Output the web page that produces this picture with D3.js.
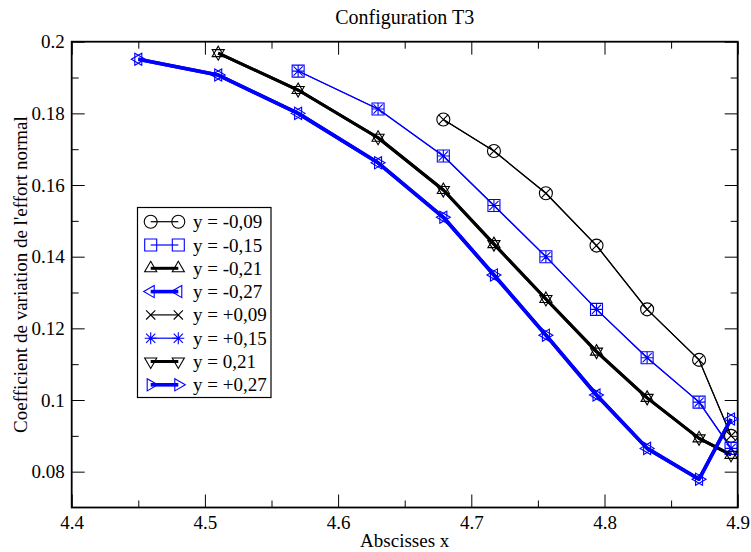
<!DOCTYPE html>
<html>
<head>
<meta charset="utf-8">
<script src="https://cdn.jsdelivr.net/npm/d3@7"></script>
<style>
body { margin: 0; background: #fff; }
svg { display: block; }
text { font-family: "Liberation Serif", "Times New Roman", serif; fill: #000; }
</style>
</head>
<body>
<svg id="chart" width="751" height="552"></svg>
<script>
// abscissas of each curve
var x_09 = [4.679,4.717,4.756,4.794,4.832,4.871,4.895];
var x_15 = [4.57,4.63,4.679,4.717,4.756,4.794,4.832,4.871,4.895];
var x_21 = [4.51,4.57,4.63,4.679,4.717,4.756,4.794,4.832,4.871,4.895];
var x_27 = [4.45,4.51,4.57,4.63,4.679,4.717,4.756,4.794,4.832,4.871,4.895];

// coefficient de variation for each y position
var y_m09 = [0.1783,0.1695,0.1577,0.1431,0.1253,0.1112,0.0900];
var y_m15 = [0.1918,0.1812,0.1681,0.1543,0.1400,0.1253,0.1118,0.0994,0.0865];
var y_m21 = [0.1968,0.1865,0.1732,0.1586,0.1435,0.1282,0.1135,0.1006,0.0893,0.0847];
var y_m27 = [0.1951,0.1907,0.1800,0.1662,0.1510,0.1349,0.1181,0.1014,0.0865,0.0779,0.0947];
var y_p09 = [0.1783,0.1695,0.1577,0.1431,0.1253,0.1112,0.0900];
var y_p15 = [0.1918,0.1812,0.1681,0.1543,0.1400,0.1253,0.1118,0.0994,0.0865];
var y_p21 = [0.1968,0.1865,0.1732,0.1586,0.1435,0.1282,0.1135,0.1006,0.0893,0.0847];
var y_p27 = [0.1951,0.1907,0.1800,0.1662,0.1510,0.1349,0.1181,0.1014,0.0865,0.0779,0.0947];

var labels = ["y = -0,09","y = -0,15","y = -0,21","y = -0,27","y = +0,09","y = +0,15","y = 0,21","y = +0,27"];
var x_ticks = [4.4,4.5,4.6,4.7,4.8,4.9];
var x_minor = [4.45,4.55,4.65,4.75,4.85];
var y_ticks = [0.08,0.1,0.12,0.14,0.16,0.18,0.2];
var y_minor = [0.09,0.11,0.13,0.15,0.17,0.19];

var series = [
  {xs: x_09, ys: y_m09, color: "#000", width: 1.2, sym: "circle"},
  {xs: x_15, ys: y_m15, color: "#0000ff", width: 1.2, sym: "square"},
  {xs: x_21, ys: y_m21, color: "#000", width: 3, sym: "up"},
  {xs: x_27, ys: y_m27, color: "#0000ff", width: 3.6, sym: "left"},
  {xs: x_09, ys: y_p09, color: "#000", width: 1.2, sym: "x"},
  {xs: x_15, ys: y_p15, color: "#0000ff", width: 1.2, sym: "star"},
  {xs: x_21, ys: y_p21, color: "#000", width: 3, sym: "down"},
  {xs: x_27, ys: y_p27, color: "#0000ff", width: 3.6, sym: "right"}
];

var plotLeft = 71.7, plotRight = 737.7, plotTop = 41.7, plotBottom = 507.5;
var serif = "'Liberation Serif', 'Times New Roman', serif";
var x = d3.scaleLinear().domain([4.4, 4.9]).range([plotLeft, plotRight]);
var y = d3.scaleLinear().domain([0.07, 0.2]).range([plotBottom, plotTop]);

var svg = d3.select("#chart");

// marker shapes as path strings, centred on 0,0
function symPath(sym) {
  var r = 7, h = r * 0.866;
  switch (sym) {
    case "square": return "M-6,-6H6V6H-6Z";
    case "up": return "M0," + (-r) + "L" + h + "," + (r/2) + "L" + (-h) + "," + (r/2) + "Z";
    case "down": return "M0," + r + "L" + h + "," + (-r/2) + "L" + (-h) + "," + (-r/2) + "Z";
    case "left": return "M" + (-r) + ",0L" + (r/2) + "," + (-h) + "L" + (r/2) + "," + h + "Z";
    case "right": return "M" + r + ",0L" + (-r/2) + "," + (-h) + "L" + (-r/2) + "," + h + "Z";
    case "x": return "M-4.6,-4.6L4.6,4.6M-4.6,4.6L4.6,-4.6";
    case "star": return "M-4.6,-4.6L4.6,4.6M-4.6,4.6L4.6,-4.6M0,-6V6M-6,0H6";
  }
}

function drawMarker(g, sym, color, cx, cy) {
  if (sym == "circle") {
    g.append("circle").attr("cx", cx).attr("cy", cy).attr("r", 6.5)
      .attr("fill", "none").attr("stroke", color).attr("stroke-width", 1.1);
  } else {
    g.append("path").attr("d", symPath(sym))
      .attr("transform", "translate(" + cx + "," + cy + ")")
      .attr("fill", "none").attr("stroke", color).attr("stroke-width", 1.1);
  }
}

// axes: ticks pointing inward on all four sides
function styleAxis(g) {
  g.attr("font-family", serif).attr("font-size", 19);
  g.select(".domain").remove();
  g.selectAll(".tick line").attr("stroke", "#000").attr("stroke-width", 1);
  g.selectAll("text").style("font-family", serif).style("font-size", "19px");
  return g;
}

svg.append("g").attr("transform", "translate(0," + plotBottom + ")")
  .call(d3.axisBottom(x).tickValues(x_ticks).tickSize(-13).tickPadding(8).tickFormat(d3.format(".1f")))
  .call(styleAxis);
svg.append("g").attr("transform", "translate(0," + plotBottom + ")")
  .call(d3.axisBottom(x).tickValues(x_minor).tickSize(-7).tickFormat(""))
  .call(styleAxis);
svg.append("g").attr("transform", "translate(0," + plotTop + ")")
  .call(d3.axisTop(x).tickValues(x_ticks).tickSize(-13).tickFormat(""))
  .call(styleAxis);
svg.append("g").attr("transform", "translate(0," + plotTop + ")")
  .call(d3.axisTop(x).tickValues(x_minor).tickSize(-7).tickFormat(""))
  .call(styleAxis);
svg.append("g").attr("transform", "translate(" + plotLeft + ",0)")
  .call(d3.axisLeft(y).tickValues(y_ticks).tickSize(-13).tickPadding(7).tickFormat(d3.format("")))
  .call(styleAxis);
svg.append("g").attr("transform", "translate(" + plotLeft + ",0)")
  .call(d3.axisLeft(y).tickValues(y_minor).tickSize(-7).tickFormat(""))
  .call(styleAxis);
svg.append("g").attr("transform", "translate(" + plotRight + ",0)")
  .call(d3.axisRight(y).tickValues(y_ticks).tickSize(-13).tickFormat(""))
  .call(styleAxis);
svg.append("g").attr("transform", "translate(" + plotRight + ",0)")
  .call(d3.axisRight(y).tickValues(y_minor).tickSize(-7).tickFormat(""))
  .call(styleAxis);

svg.append("rect")
  .attr("x", plotLeft).attr("y", plotTop)
  .attr("width", plotRight - plotLeft).attr("height", plotBottom - plotTop)
  .attr("fill", "none").attr("stroke", "#000").attr("stroke-width", 1.8);

// curves
var line = d3.line().x(function(d) { return x(d[0]); }).y(function(d) { return y(d[1]); });
var plot = svg.append("g");
series.forEach(function(s) {
  var pts = s.xs.map(function(v, i) { return [v, s.ys[i]]; });
  plot.append("path").datum(pts).attr("d", line)
    .attr("fill", "none").attr("stroke", s.color).attr("stroke-width", s.width)
    .attr("stroke-linejoin", "round");
});
series.forEach(function(s) {
  s.xs.forEach(function(v, i) {
    drawMarker(plot, s.sym, s.color, x(v), y(s.ys[i]));
  });
});

// legend
var lg = svg.append("g");
lg.append("rect").attr("x", 137.5).attr("y", 207.5).attr("width", 133.5).attr("height", 190)
  .attr("fill", "#fff").attr("stroke", "#000").attr("stroke-width", 1.2);
series.forEach(function(s, i) {
  var cy = 221.7 + i * 23.3;
  lg.append("line").attr("x1", 150.7).attr("x2", 178.3).attr("y1", cy).attr("y2", cy)
    .attr("stroke", s.color).attr("stroke-width", s.width);
  drawMarker(lg, s.sym, s.color, 150.7, cy);
  drawMarker(lg, s.sym, s.color, 178.3, cy);
  lg.append("text").attr("x", 193).attr("y", cy + 6.5)
    .style("font-size", "19px").text(labels[i]);
});

// titles
svg.append("text").attr("x", (plotLeft + plotRight) / 2).attr("y", 24)
  .attr("text-anchor", "middle").style("font-size", "20px").text("Configuration T3");
svg.append("text").attr("x", (plotLeft + plotRight) / 2).attr("y", 547)
  .attr("text-anchor", "middle").style("font-size", "19px").text("Abscisses x");
svg.append("text").attr("transform", "translate(27," + ((plotTop + plotBottom) / 2) + ") rotate(-90)")
  .attr("text-anchor", "middle").style("font-size", "19px")
  .text("Coefficient de variation de l'effort normal");
</script>
</body>
</html>
